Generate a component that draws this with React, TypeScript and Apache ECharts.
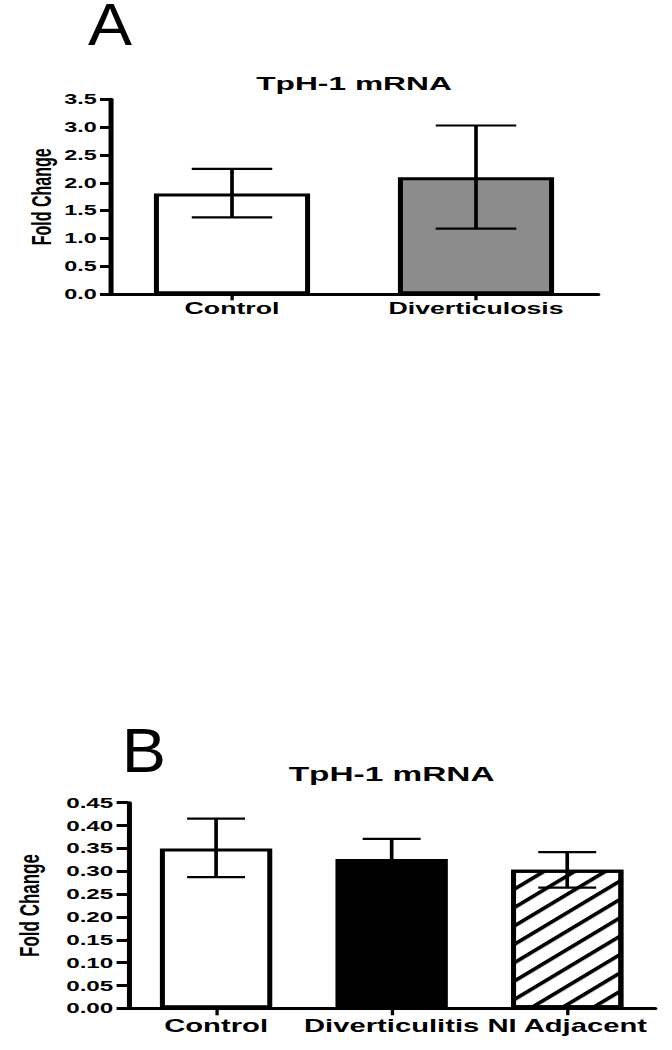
import React, { useEffect, useRef } from 'react';
import * as echarts from 'echarts';

// ---- Panel A data ----
const categoriesA = ['Control', 'Diverticulosis'];
const meansA = [1.81, 2.1];
const errLowA = [1.38, 1.18];
const errHighA = [2.25, 3.03];
const yMinA = 0;
const yMaxA = 3.5;
const yStepA = 0.5;

// ---- Panel B data ----
const categoriesB = ['Control', 'Diverticulitis', 'NI Adjacent'];
const meansB = [0.35, 0.327, 0.303];
const errLowB = [0.287, 0.283, 0.264];
const errHighB = [0.415, 0.371, 0.342];
const yMinB = 0;
const yMaxB = 0.45;
const yStepB = 0.05;

const titleText = 'TpH-1 mRNA';
const yName = 'Fold Change';

// The reference figure is stretched horizontally; reproduce with a CSS scaleX.
const S = 1.67;
const W = 672 / S;
const H = 1050;
const FONT = '"Liberation Sans", Arial, Helvetica, sans-serif';

const errRender = (params: any, api: any) => {
  const x = api.value(0);
  const lo = api.coord([x, api.value(1)]);
  const hi = api.coord([x, api.value(2)]);
  const band = api.size([1, 0])[0];
  const hw = (band * 0.33) / 2;
  const st = { stroke: '#000', lineWidth: 2.2 };
  return {
    type: 'group',
    children: [
      { type: 'line', shape: { x1: lo[0], y1: lo[1], x2: hi[0], y2: hi[1] }, style: st },
      { type: 'line', shape: { x1: hi[0] - hw, y1: hi[1], x2: hi[0] + hw, y2: hi[1] }, style: st },
      { type: 'line', shape: { x1: lo[0] - hw, y1: lo[1], x2: lo[0] + hw, y2: lo[1] }, style: st },
    ],
  };
};

const hatchDecal = {
  symbol: 'rect',
  symbolSize: 1,
  dashArrayX: [1, 0],
  dashArrayY: [2.2, 10],
  rotation: -Math.PI / 4,
  color: '#000',
  backgroundColor: '#fff',
};

function xAxisCfg(gridIndex: number, data: string[], fontSize: number, margin: number, tickLen: number) {
  return {
    gridIndex,
    type: 'category',
    data,
    axisLine: { show: true, lineStyle: { color: '#000', width: 3 } },
    axisTick: { show: true, alignWithLabel: true, length: tickLen, lineStyle: { color: '#000', width: 2 } },
    axisLabel: { interval: 0, margin, fontSize, fontWeight: 'bold', color: '#000', fontFamily: FONT },
    splitLine: { show: false },
  };
}

function yAxisCfg(gridIndex: number, min: number, max: number, step: number, digits: number, fontSize: number, margin: number, tickLen: number, nameGap: number, nameSize: number) {
  return {
    gridIndex,
    type: 'value',
    min,
    max,
    interval: step,
    axisLine: { show: true, lineStyle: { color: '#000', width: 3 } },
    axisTick: { show: true, length: tickLen, lineStyle: { color: '#000', width: 3 } },
    axisLabel: {
      margin,
      fontSize,
      fontWeight: 'bold',
      color: '#000',
      fontFamily: FONT,
      formatter: (v: number) => v.toFixed(digits),
    },
    splitLine: { show: false },
    name: yName,
    nameLocation: 'middle',
    nameGap,
    nameMoveOverlap: false,
    nameTextStyle: { fontSize: nameSize, fontWeight: 'bold', color: '#000', fontFamily: FONT },
  };
}

const fillsA = ['#ffffff', '#8c8c8c'];

export default function App() {
  const ref = useRef<HTMLDivElement>(null);
  useEffect(() => {
    if (!ref.current) return;
    const chart = echarts.init(ref.current, null, { renderer: 'svg' });
    const option: any = {
      animation: false,
      backgroundColor: '#fff',
      title: [
        {
          text: titleText,
          left: 354 / S,
          top: 73.5,
          textAlign: 'center',
          padding: 0,
          textStyle: { fontSize: 19, fontWeight: 'bold', color: '#000', fontFamily: FONT },
        },
        {
          text: titleText,
          left: 391.6 / S,
          top: 764,
          textAlign: 'center',
          padding: 0,
          textStyle: { fontSize: 20, fontWeight: 'bold', color: '#000', fontFamily: FONT },
        },
      ],
      graphic: [
        {
          type: 'text',
          x: 110 / S,
          y: -2,
          scaleX: 1.1 / S,
          style: { text: 'A', fontSize: 60, lineHeight: 52, fontFamily: FONT, fill: '#000', align: 'center', verticalAlign: 'top' },
        },
        {
          type: 'text',
          x: 144 / S,
          y: 724,
          scaleX: 1.07 / S,
          style: { text: 'B', fontSize: 62, lineHeight: 53, fontFamily: FONT, fill: '#000', align: 'center', verticalAlign: 'top' },
        },
      ],
      grid: [
        { left: 110 / S, top: 99.3, width: 488 / S, height: 195 },
        { left: 128.3 / S, top: 802.7, width: 526.7 / S, height: 205.6 },
      ],
      xAxis: [
        xAxisCfg(0, categoriesA, 16, 6, 6),
        xAxisCfg(1, categoriesB, 17.5, 8.5, 7),
      ],
      yAxis: [
        yAxisCfg(0, yMinA, yMaxA, yStepA, 1, 14, 8, 6, 33, 16),
        yAxisCfg(1, yMinB, yMaxB, yStepB, 2, 14.5, 9, 7, 50.5, 17),
      ],
      series: [
        {
          type: 'bar',
          xAxisIndex: 0,
          yAxisIndex: 0,
          barWidth: '64%',
          silent: true,
          itemStyle: { borderColor: '#000', borderWidth: 3 },
          data: meansA.map((v, i) => ({ value: v, itemStyle: { color: fillsA[i] } })),
        },
        {
          type: 'custom',
          xAxisIndex: 0,
          yAxisIndex: 0,
          z: 5,
          silent: true,
          renderItem: errRender,
          encode: { x: 0, y: [1, 2] },
          data: categoriesA.map((_, i) => [i, errLowA[i], errHighA[i]]),
        },
        {
          type: 'bar',
          xAxisIndex: 1,
          yAxisIndex: 1,
          barWidth: '64%',
          silent: true,
          itemStyle: { borderColor: '#000', borderWidth: 3 },
          data: meansB.map((v, i) => {
            if (i === 0) return { value: v, itemStyle: { color: '#ffffff' } };
            if (i === 1) return { value: v, itemStyle: { color: '#000000' } };
            return { value: v, itemStyle: { color: '#ffffff', decal: hatchDecal } };
          }),
        },
        {
          type: 'custom',
          xAxisIndex: 1,
          yAxisIndex: 1,
          z: 5,
          silent: true,
          renderItem: errRender,
          encode: { x: 0, y: [1, 2] },
          data: categoriesB.map((_, i) => [i, errLowB[i], errHighB[i]]),
        },
      ],
    };
    chart.setOption(option);
    return () => chart.dispose();
  }, []);
  return (
    <div
      ref={ref}
      style={{
        position: 'absolute',
        left: 0,
        top: 0,
        width: W,
        height: H,
        transform: `scaleX(${S})`,
        transformOrigin: '0 0',
      }}
    />
  );
}
